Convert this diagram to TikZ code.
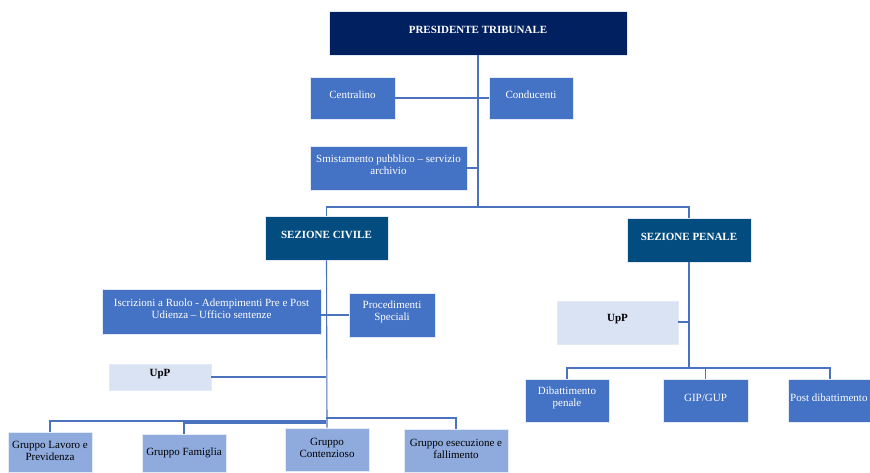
\documentclass[tikz,border=0pt]{standalone}
\usepackage{fontspec}
\setmainfont{Liberation Serif}
\definecolor{navy}{HTML}{002060}
\definecolor{secblue}{HTML}{024C80}
\definecolor{midblue}{HTML}{4472C4}
\definecolor{lightblue}{HTML}{DAE3F3}
\definecolor{grpblue}{HTML}{8FAADC}
\definecolor{linec}{HTML}{4A72BE}
\tikzset{
  box/.style={draw=white!85!midblue, line width=0.6pt, inner sep=0pt},
  txt/.style={inner sep=0pt, align=center, font=\fontsize{11}{12}\selectfont},
  btxt/.style={txt, font=\bfseries\fontsize{11}{12}\selectfont},
  topbox/.style={box, fill=navy},
  secbox/.style={box, fill=secblue},
  midbox/.style={box, fill=midblue},
  upbox/.style={box, fill=lightblue},
  grpbox/.style={box, fill=grpblue},
  conn/.style={draw=linec, line width=1.1pt},
}
% #1 box style, #2 name, #3..#6 x1 y1 x2 y2, #7 text style, #8 text, #9 text shift
\newcommand{\bx}[9]{%
  \pgfmathsetmacro{\bw}{#5-#3}\pgfmathsetmacro{\bh}{#6-#4}%
  \pgfmathsetmacro{\cx}{(#3+#5)/2}\pgfmathsetmacro{\cy}{(#4+#6)/2+#9}%
  \node[#1, minimum width=\bw pt, minimum height=\bh pt] (#2) at ({(#3+#5)/2},{(#4+#6)/2}) {};
  \node[#7] (#2-t) at (\cx,\cy) {#8};}
\begin{document}
\begin{tikzpicture}[x=1pt,y=-1pt]
\useasboundingbox (0,0) rectangle (870,472);
% boxes
\bx{topbox}{pres}{329}{11}{627}{55}{btxt,text=white}{PRESIDENTE TRIBUNALE}{-3}
\bx{midbox}{cen}{310}{77}{395}{119}{txt,text=white}{Centralino}{-3}
\bx{midbox}{cond}{489}{77}{573}{119}{txt,text=white}{Conducenti}{-3}
\bx{midbox}{smist}{310}{146}{467}{190}{txt,text=white}{Smistamento pubblico -- servizio\\archivio}{-3}
\bx{secbox}{civ}{265}{216}{388}{260}{btxt,text=white}{SEZIONE CIVILE}{-3}
\bx{secbox}{pen}{627}{218}{751}{262}{btxt,text=white}{SEZIONE PENALE}{-3}
\bx{midbox}{iscr}{102}{289}{321}{334}{txt,text=white}{Iscrizioni a Ruolo - Adempimenti Pre e Post\\Udienza -- Ufficio sentenze}{-3}
\bx{midbox}{proc}{349}{293}{435}{337}{txt,text=white}{Procedimenti\\Speciali}{-3}
\bx{upbox}{upc}{109}{364}{211}{390}{btxt}{UpP}{-3}
\bx{upbox}{upp}{557}{301}{678}{344}{btxt}{UpP}{-3}
\bx{grpbox}{lav}{8}{432}{92}{472}{txt}{Gruppo Lavoro e\\Previdenza}{-1.5}
\bx{grpbox}{fam}{142}{434}{226}{472}{txt}{Gruppo Famiglia}{0}
\bx{grpbox}{cont}{285}{428}{369}{471}{txt}{Gruppo\\Contenzioso}{-1.5}
\bx{grpbox}{esec}{404}{429}{508}{472}{txt}{Gruppo esecuzione e\\fallimento}{-1.5}
\bx{midbox}{dib}{525}{379}{609}{422}{txt,text=white}{Dibattimento\\penale}{-3}
\bx{midbox}{gip}{663}{379}{748}{422}{txt,text=white}{GIP/GUP}{-3}
\node[midbox, minimum width=90pt, minimum height=43pt, anchor=north west] (post) at (788,379) {};
\node[txt, text=white, anchor=west] (post-t) at (790,397.5) {Post dibattimento};
% junctions
\coordinate (jtop) at (478,207);
\coordinate (jcen) at (478,98);
\coordinate (jsm) at (478,168);
\coordinate (jcl) at (326,315);
\coordinate (jup) at (326,377);
\coordinate (jpu) at (689,322);
\coordinate (jpb) at (689,368);
\coordinate (jpost) at (830,379);
\coordinate (jlav) at (326,421);
\coordinate (jfam) at (326,423);
\coordinate (jesc) at (326,418);
% connectors
\draw[conn] (pres.south -| jtop) -- (jtop);
\draw[conn] (jtop) -| (civ.north);
\draw[conn] (jtop) -| (pen.north);
\draw[conn] (cen.east |- jcen) -- (cond.west |- jcen);
\draw[conn] (smist.east |- jsm) -- (jsm);
\draw[conn] (civ.south) -- (cont.north);
\draw[conn] (iscr.east |- jcl) -- (jcl) -- (proc.west |- jcl);
\draw[conn] (upc.east |- jup) -- (jup);
\draw[conn] (jlav) -| (lav.north);
\draw[conn] (jfam) -| (fam.north);
\draw[conn] (jesc) -| (esec.north);
\draw[conn] (pen.south) -- (jpb);
\draw[conn] (upp.east |- jpu) -- (jpu);
\draw[conn] (jpb) -| (dib.north);
\draw[conn] (jpb) -| (gip.north);
\draw[conn] (jpb) -| (jpost);
\end{tikzpicture}
\end{document}
